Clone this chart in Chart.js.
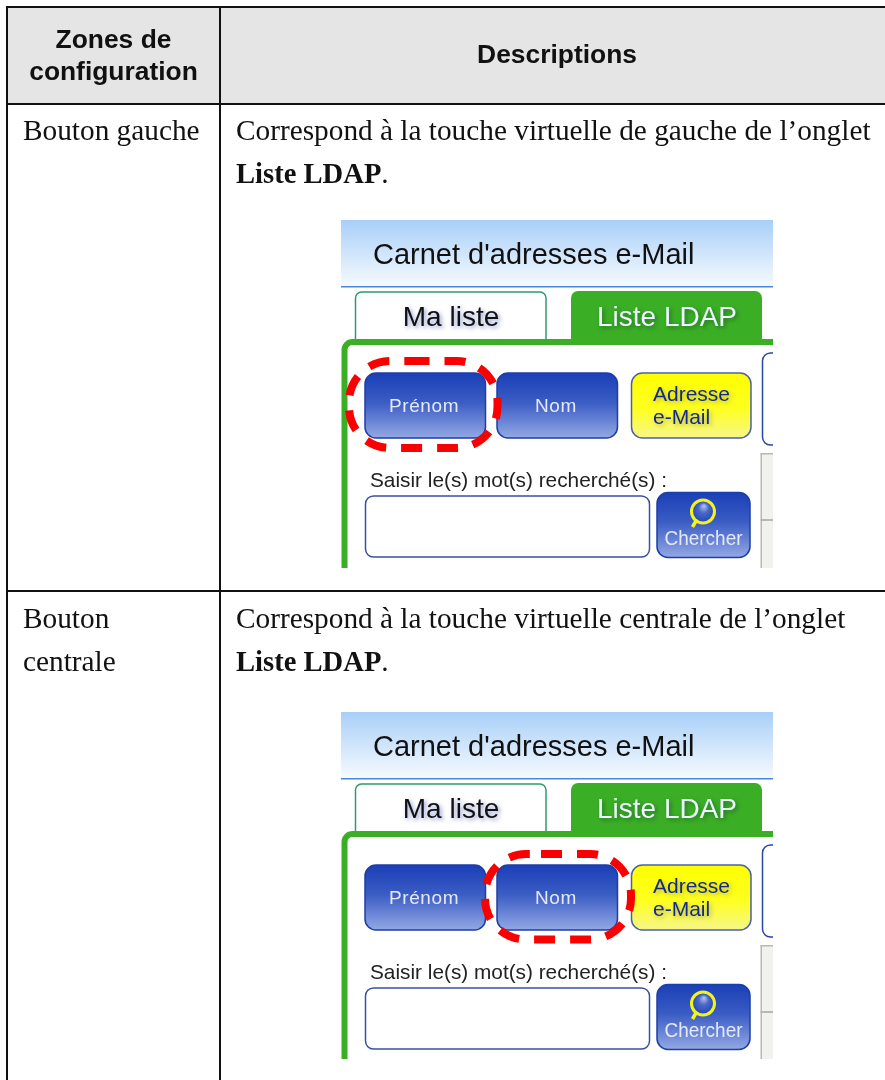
<!DOCTYPE html>
<html lang="fr">
<head>
<meta charset="utf-8">
<title>Zones de configuration</title>
<script src="https://cdn.jsdelivr.net/npm/chart.js@4/dist/chart.umd.min.js"></script>
<style>
  html, body { margin: 0; padding: 0; background: #fff; }
  canvas { display: block; }
</style>
</head>
<body>
<canvas id="tableChart" width="885" height="1080"></canvas>
<script>
// The reference is a table with two screenshots, so the data is text only
const headers = [['Zones de', 'configuration'], ['Descriptions']];
const zones = [['Bouton gauche'], ['Bouton', 'centrale']];
const descriptions = [
    'Correspond à la touche virtuelle de gauche de l’onglet',
    'Correspond à la touche virtuelle centrale de l’onglet'
];
const tabName = 'Liste LDAP';
const screenTitle = "Carnet d'adresses e-Mail";
const tabs = ['Ma liste', 'Liste LDAP'];
const softKeys = ['Prénom', 'Nom'];
const mailKey = ['Adresse', 'e-Mail'];
const searchLabel = 'Saisir le(s) mot(s) recherché(s) :';
const searchKey = 'Chercher';

const SERIF = '"Liberation Serif"';
const SANS = '"Liberation Sans"';

function rr(ctx, x, y, w, h, r) {
    ctx.beginPath();
    ctx.roundRect(x, y, w, h, r);
}

function text(ctx, str, x, y, font, color, align, maxWidth) {
    ctx.font = font;
    ctx.fillStyle = color;
    ctx.textAlign = align || 'left';
    ctx.textBaseline = 'alphabetic';
    if (maxWidth) ctx.fillText(str, x, y, maxWidth);
    else ctx.fillText(str, x, y);
}

function shadowOn(ctx, color) {
    ctx.shadowColor = color;
    ctx.shadowOffsetX = 2;
    ctx.shadowOffsetY = 2;
    ctx.shadowBlur = 4;
}

function shadowOff(ctx) {
    ctx.shadowColor = 'transparent';
    ctx.shadowOffsetX = 0;
    ctx.shadowOffsetY = 0;
    ctx.shadowBlur = 0;
}

function blueKey(ctx, x, y, w, h, r) {
    const g = ctx.createLinearGradient(0, y, 0, y + h);
    g.addColorStop(0, '#1b3fb6');
    g.addColorStop(0.45, '#3a5cc4');
    g.addColorStop(1, '#93a8e4');
    rr(ctx, x, y, w, h, r);
    ctx.fillStyle = g;
    ctx.fill();
    ctx.strokeStyle = '#1c3ea8';
    ctx.lineWidth = 1.5;
    ctx.stroke();
}

// One phone screenshot; dy moves it down, ring is the red dashed highlight
function drawScreen(ctx, dy, clipBottom, ring) {
    ctx.save();
    ctx.translate(0, dy);
    ctx.beginPath();
    ctx.rect(341, 220, 432, clipBottom - 220);
    ctx.clip();
    ctx.filter = 'blur(0.4px)'; // the screenshots are soft in the source

    // title band
    const band = ctx.createLinearGradient(0, 220, 0, 287);
    band.addColorStop(0, '#a8cff8');
    band.addColorStop(1, '#f7fbff');
    ctx.fillStyle = band;
    ctx.fillRect(341, 220, 432, 67);
    ctx.fillStyle = '#4a86dc';
    ctx.fillRect(341, 286, 432, 1.5);
    text(ctx, screenTitle, 373, 264, '29px ' + SANS, '#111');

    // tabs
    rr(ctx, 355.5, 292, 190.5, 50, [6, 6, 0, 0]);
    ctx.fillStyle = '#fff';
    ctx.fill();
    ctx.strokeStyle = '#2f9a6c';
    ctx.lineWidth = 1.5;
    ctx.stroke();
    rr(ctx, 571, 291, 191, 50, [7, 7, 0, 0]);
    ctx.fillStyle = '#3aae24';
    ctx.fill();
    shadowOn(ctx, 'rgba(40,60,170,0.5)');
    text(ctx, tabs[0], 451, 326, '28px ' + SANS, '#111', 'center');
    shadowOn(ctx, 'rgba(20,70,40,0.55)');
    text(ctx, tabs[1], 667, 326, '28px ' + SANS, '#eef6ff', 'center');
    shadowOff(ctx);

    // green panel
    rr(ctx, 344.5, 342, 480, 300, 8);
    ctx.fillStyle = '#fff';
    ctx.fill();
    ctx.strokeStyle = '#3aae24';
    ctx.lineWidth = 6;
    ctx.stroke();

    // keys
    blueKey(ctx, 365, 373, 120.5, 65, 11);
    blueKey(ctx, 497, 373, 120.5, 65, 11);
    const y = ctx.createLinearGradient(0, 373, 0, 438);
    y.addColorStop(0, '#ffff00');
    y.addColorStop(0.55, '#ffff20');
    y.addColorStop(1, '#f6f68a');
    rr(ctx, 631.5, 373, 119.5, 65, 11);
    ctx.fillStyle = y;
    ctx.fill();
    ctx.strokeStyle = '#4a62a8';
    ctx.lineWidth = 1.5;
    ctx.stroke();
    ctx.letterSpacing = '0.6px';
    text(ctx, softKeys[0], 424, 412, '19px ' + SANS, '#e3e9fa', 'center');
    text(ctx, softKeys[1], 556, 412, '19px ' + SANS, '#e3e9fa', 'center');
    ctx.letterSpacing = '0px';
    shadowOn(ctx, 'rgba(70,80,90,0.4)');
    text(ctx, mailKey[0], 653, 401, '21px ' + SANS, '#16298a');
    text(ctx, mailKey[1], 653, 424, '21px ' + SANS, '#16298a');
    shadowOff(ctx);

    // cut off key on the right
    rr(ctx, 762.5, 353, 40, 92, 8);
    ctx.fillStyle = '#fff';
    ctx.fill();
    ctx.strokeStyle = '#2a469f';
    ctx.lineWidth = 1.5;
    ctx.stroke();

    // cut off gray list on the right
    ctx.fillStyle = '#f1f1ee';
    ctx.fillRect(761, 453, 12, 120);
    ctx.fillStyle = '#b8b8b6';
    ctx.fillRect(760.5, 453, 12.5, 1.5);
    ctx.fillRect(760.5, 453, 1.5, 120);
    ctx.fillRect(760.5, 519, 12.5, 2);

    // search row
    text(ctx, searchLabel, 370, 487, '20.8px ' + SANS, '#222');
    rr(ctx, 365.5, 496, 284, 61, 8);
    ctx.fillStyle = '#fff';
    ctx.fill();
    ctx.strokeStyle = '#3a50a8';
    ctx.lineWidth = 1.5;
    ctx.stroke();
    blueKey(ctx, 657, 492.5, 93, 65, 11);

    // magnifier
    const lens = ctx.createRadialGradient(704, 506, 1, 703, 511, 11);
    lens.addColorStop(0, '#a8b8e8');
    lens.addColorStop(0.4, '#4a68c8');
    lens.addColorStop(1, '#2448b8');
    ctx.beginPath();
    ctx.arc(703, 511.5, 11.5, 0, Math.PI * 2);
    ctx.fillStyle = lens;
    ctx.fill();
    ctx.strokeStyle = '#f4f41a';
    ctx.lineWidth = 3;
    ctx.stroke();
    ctx.beginPath();
    ctx.moveTo(696, 521);
    ctx.lineTo(692.5, 527);
    ctx.lineWidth = 3.5;
    ctx.stroke();
    text(ctx, searchKey, 703.5, 545, '21px ' + SANS, '#e3e9fa', 'center', 78);

    // red dashed highlight
    ctx.strokeStyle = '#fb0000';
    ctx.lineWidth = 8;
    ctx.setLineDash([21, 15]);
    const r = 41;
    ctx.beginPath();
    ctx.moveTo(ring.startX, ring.top);
    ctx.lineTo(ring.right - r, ring.top);
    ctx.arcTo(ring.right, ring.top, ring.right, ring.top + r, r);
    ctx.lineTo(ring.right, ring.bottom - r);
    ctx.arcTo(ring.right, ring.bottom, ring.right - r, ring.bottom, r);
    ctx.lineTo(ring.left + r, ring.bottom);
    ctx.arcTo(ring.left, ring.bottom, ring.left, ring.bottom - r, r);
    ctx.lineTo(ring.left, ring.top + r);
    ctx.arcTo(ring.left, ring.top, ring.left + r, ring.top, r);
    ctx.closePath();
    ctx.stroke();
    ctx.restore();
}

const tablePlugin = {
    id: 'tablePlugin',
    beforeDraw(chart) {
        const ctx = chart.ctx;
        const px = v => chart.scales.x.getPixelForValue(v);
        const py = v => chart.scales.y.getPixelForValue(v);

        ctx.save();
        ctx.fillStyle = '#fff';
        ctx.fillRect(0, 0, chart.width, chart.height);

        // header cells
        ctx.fillStyle = '#e5e5e5';
        ctx.fillRect(px(7), py(7), px(885) - px(7), py(104) - py(7));

        // rules
        ctx.fillStyle = '#111';
        ctx.fillRect(px(6), py(6), 2, py(1080) - py(6));
        ctx.fillRect(px(219), py(6), 2, py(1080) - py(6));
        ctx.fillRect(px(6), py(6), px(885) - px(6), 2);
        ctx.fillRect(px(6), py(103), px(885) - px(6), 2);
        ctx.fillRect(px(6), py(590), px(885) - px(6), 2);

        // header text
        const headFont = 'bold 26.4px ' + SANS;
        text(ctx, headers[0][0], px(113.5), py(48), headFont, '#111', 'center');
        text(ctx, headers[0][1], px(113.5), py(79.5), headFont, '#111', 'center');
        text(ctx, headers[1][0], px(557), py(63), headFont, '#111', 'center');

        // body text
        const bodyFont = '29.3px ' + SERIF;
        const boldFont = 'bold 28.6px ' + SERIF;
        [[140, 182.5], [628, 670.5]].forEach((base, i) => {
            zones[i].forEach((line, k) => {
                text(ctx, line, px(23), py(base[k]), bodyFont, '#111');
            });
            text(ctx, descriptions[i], px(236), py(base[0]), bodyFont, '#111');
            text(ctx, tabName, px(236), py(base[1]), boldFont, '#111');
            const w = ctx.measureText(tabName).width;
            text(ctx, '.', px(236) + w, py(base[1]), bodyFont, '#111');
        });

        drawScreen(ctx, 0, 568, { left: 349, right: 497.5, top: 361, bottom: 448, startX: 408.5 });
        drawScreen(ctx, 492, 567, { left: 485, right: 631, top: 362, bottom: 447.5, startX: 541 });
        ctx.restore();
    }
};

new Chart(document.getElementById('tableChart'), {
    type: 'scatter',
    data: { datasets: [] },
    options: {
        responsive: false,
        animation: false,
        layout: { padding: 0 },
        plugins: { legend: { display: false }, tooltip: { enabled: false } },
        scales: {
            x: { display: false, min: 0, max: 885 },
            y: { display: false, min: 0, max: 1080, reverse: true }
        }
    },
    plugins: [tablePlugin]
});
</script>
</body>
</html>
